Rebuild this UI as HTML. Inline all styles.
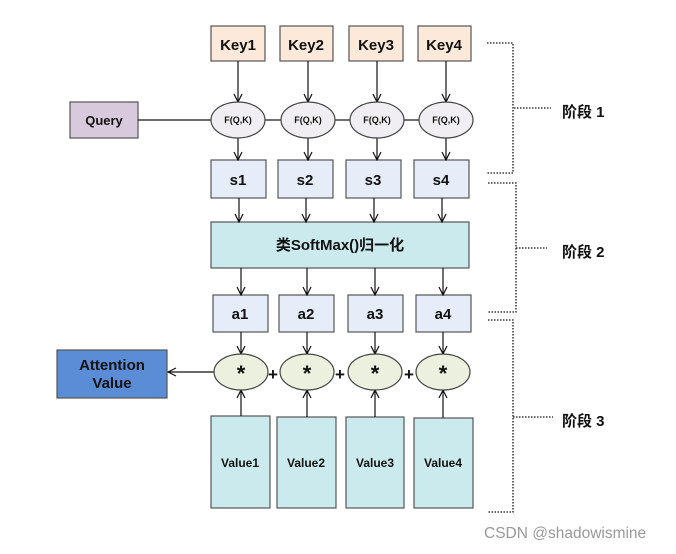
<!DOCTYPE html>
<html><head><meta charset="utf-8"><style>
html,body{margin:0;padding:0;background:#fff;}
text{font-family:"Liberation Sans","Noto Sans CJK SC",sans-serif;font-weight:bold;fill:#111;}
</style></head><body>
<svg width="676" height="549" viewBox="0 0 676 549" xmlns="http://www.w3.org/2000/svg">
<defs>
<marker id="a" markerWidth="10" markerHeight="10" refX="9" refY="5" orient="auto" markerUnits="userSpaceOnUse">
<path d="M1,1 L9,5 L1,9" fill="none" stroke="#111" stroke-width="1.2"/></marker>
</defs>
<g stroke="#555" stroke-width="1.2">
<rect x="211" y="26" width="54" height="35" fill="#fde9d9"/>
<rect x="280" y="26" width="53" height="35" fill="#fde9d9"/>
<rect x="349" y="26" width="54" height="35" fill="#fde9d9"/>
<rect x="418" y="26" width="53" height="35" fill="#fde9d9"/>
<rect x="70" y="102" width="68" height="36" fill="#d9c9dd"/>
<rect x="211" y="160" width="55" height="38" fill="#e6edf8"/>
<rect x="278" y="160" width="55" height="38" fill="#e6edf8"/>
<rect x="346" y="160" width="55" height="38" fill="#e6edf8"/>
<rect x="414" y="160" width="55" height="38" fill="#e6edf8"/>
<rect x="211" y="222" width="258" height="46" fill="#cbeaee"/>
<rect x="213" y="295" width="55" height="37" fill="#e6edf8"/>
<rect x="279" y="295" width="55" height="37" fill="#e6edf8"/>
<rect x="348" y="295" width="55" height="37" fill="#e6edf8"/>
<rect x="416" y="295" width="55" height="37" fill="#e6edf8"/>
<rect x="57" y="350" width="110" height="48" fill="#5b8dd6"/>
<rect x="211" y="416" width="59" height="92" fill="#cbeaee"/>
<rect x="277" y="417" width="59" height="91" fill="#cbeaee"/>
<rect x="346" y="417" width="58" height="91" fill="#cbeaee"/>
<rect x="414" y="418" width="59" height="90" fill="#cbeaee"/>
</g>
<g stroke="#111" stroke-width="1.2" fill="none">
<line x1="138" y1="120" x2="211" y2="120"/>
<line x1="265" y1="120" x2="281" y2="120"/>
<line x1="335" y1="120" x2="350" y2="120"/>
<line x1="404" y1="120" x2="419" y2="120"/>
<g marker-end="url(#a)">
<line x1="238" y1="61" x2="238" y2="102"/><line x1="308" y1="61" x2="308" y2="102"/>
<line x1="377" y1="61" x2="377" y2="102"/><line x1="446" y1="61" x2="446" y2="102"/>
<line x1="238" y1="138" x2="238" y2="160"/><line x1="308" y1="138" x2="308" y2="160"/>
<line x1="377" y1="138" x2="377" y2="160"/><line x1="446" y1="138" x2="446" y2="160"/>
<line x1="239" y1="198" x2="239" y2="222"/><line x1="306" y1="198" x2="306" y2="222"/>
<line x1="374" y1="198" x2="374" y2="222"/><line x1="442" y1="198" x2="442" y2="222"/>
<line x1="241" y1="268" x2="241" y2="295"/><line x1="307" y1="268" x2="307" y2="295"/>
<line x1="375" y1="268" x2="375" y2="295"/><line x1="443" y1="268" x2="443" y2="295"/>
<line x1="241" y1="332" x2="241" y2="354"/><line x1="307" y1="332" x2="307" y2="354"/>
<line x1="375" y1="332" x2="375" y2="354"/><line x1="443" y1="332" x2="443" y2="354"/>
<line x1="241" y1="416" x2="241" y2="390"/><line x1="307" y1="417" x2="307" y2="390"/>
<line x1="375" y1="417" x2="375" y2="390"/><line x1="443" y1="418" x2="443" y2="390"/>
<line x1="214" y1="372" x2="168" y2="372"/>
</g>
</g>
<g stroke="#444" stroke-width="1.2">
<ellipse cx="238" cy="120" rx="27" ry="18" fill="#f1eef3"/>
<ellipse cx="308" cy="120" rx="27" ry="18" fill="#f1eef3"/>
<ellipse cx="377" cy="120" rx="27" ry="18" fill="#f1eef3"/>
<ellipse cx="446" cy="120" rx="27" ry="18" fill="#f1eef3"/>
<ellipse cx="241" cy="372" rx="27" ry="18" fill="#ebf1de"/>
<ellipse cx="307" cy="372" rx="27" ry="18" fill="#ebf1de"/>
<ellipse cx="375" cy="372" rx="27" ry="18" fill="#ebf1de"/>
<ellipse cx="443" cy="372" rx="27" ry="18" fill="#ebf1de"/>
</g>
<g text-anchor="middle">
<text x="238" y="50" font-size="15">Key1</text><text x="306" y="50" font-size="15">Key2</text>
<text x="376" y="50" font-size="15">Key3</text><text x="444" y="50" font-size="15">Key4</text>
<text x="104" y="125" font-size="13">Query</text>
<g font-size="9"><text x="238" y="123">F(Q,K)</text><text x="308" y="123">F(Q,K)</text><text x="377" y="123">F(Q,K)</text><text x="446" y="123">F(Q,K)</text></g>
<g font-size="15"><text x="238" y="185">s1</text><text x="305" y="185">s2</text><text x="373" y="185">s3</text><text x="441" y="185">s4</text>
<text x="240" y="319">a1</text><text x="306" y="319">a2</text><text x="375" y="319">a3</text><text x="443" y="319">a4</text></g>
<text x="340" y="250" font-size="15">类SoftMax()归一化</text>
<text x="112" y="370" font-size="15">Attention</text><text x="112" y="388" font-size="15">Value</text>
<g font-size="22"><text x="241" y="381">*</text><text x="307" y="381">*</text><text x="375" y="381">*</text><text x="443" y="381">*</text>
<text x="273" y="380" font-size="17">+</text><text x="340" y="380" font-size="17">+</text><text x="409" y="380" font-size="17">+</text></g>
<g font-size="12"><text x="240" y="467">Value1</text><text x="306" y="467">Value2</text><text x="375" y="467">Value3</text><text x="443" y="467">Value4</text></g>
</g>
<g stroke="#111" stroke-width="1.3" stroke-dasharray="1.5,1.5" fill="none">
<polyline points="487,43 513,43 513,173 487,173"/><line x1="514" y1="108" x2="551" y2="108"/>
<polyline points="488,183 516,183 516,312 488,312"/><line x1="516" y1="248" x2="547" y2="248"/>
<polyline points="488,320 513,320 513,512 488,512"/><line x1="513" y1="417" x2="553" y2="417"/>
</g>
<g font-size="15"><text x="562" y="117">阶段 1</text><text x="562" y="257">阶段 2</text><text x="562" y="426">阶段 3</text></g>
<text x="484" y="538" font-size="15.5" style="font-weight:normal;fill:#999">CSDN @shadowismine</text>
</svg>
</body></html>
